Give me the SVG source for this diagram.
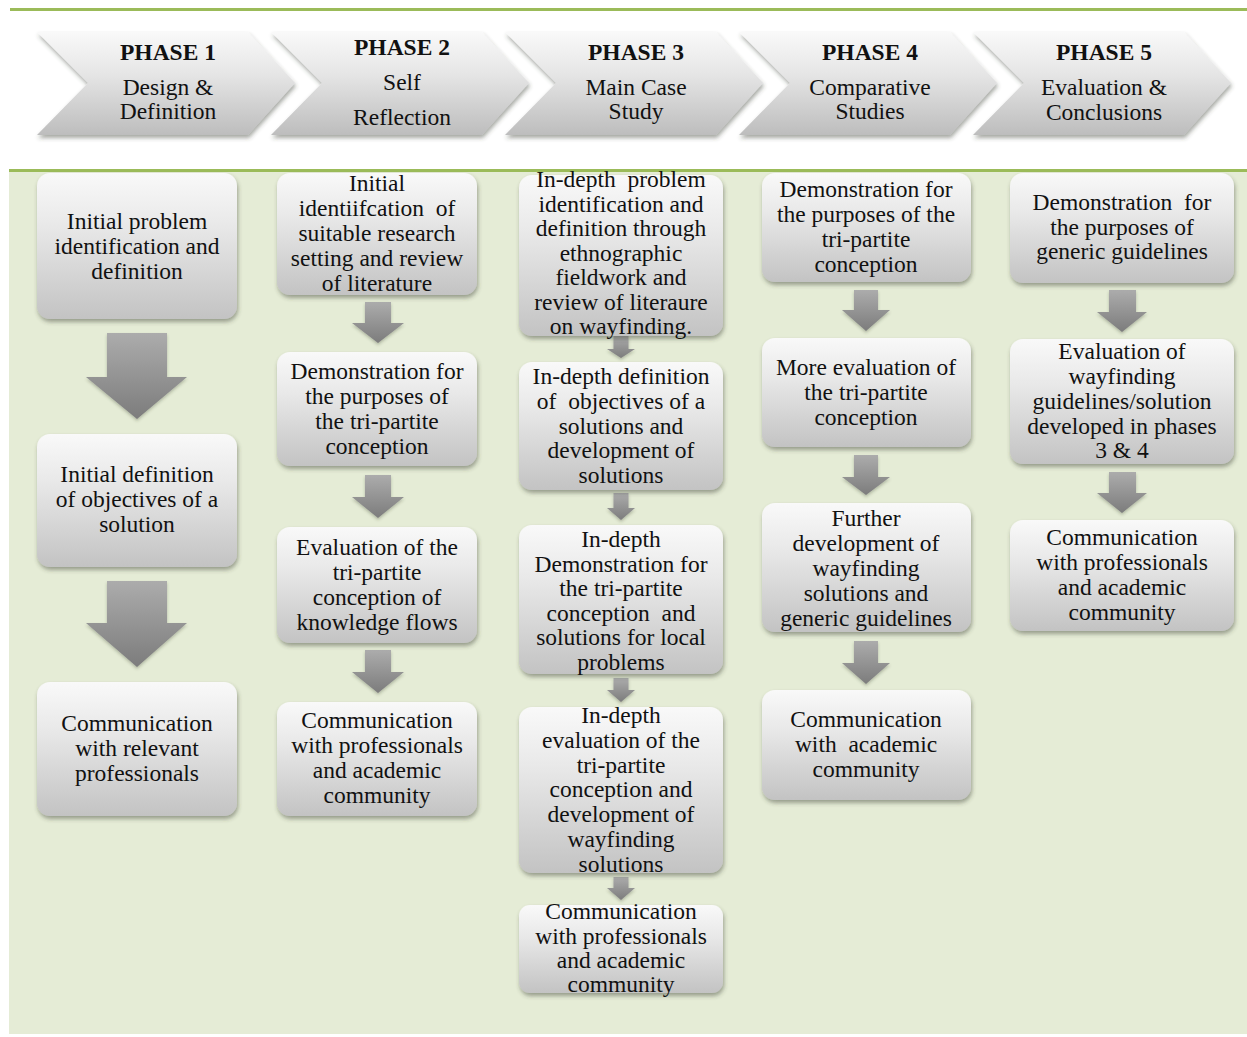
<svg xmlns="http://www.w3.org/2000/svg" width="1247" height="1037" viewBox="0 0 1247 1037">
  <defs>
    <linearGradient id="boxFill" x1="0" y1="0" x2="0" y2="1">
      <stop offset="0" stop-color="#f9f9f9"/>
      <stop offset="0.35" stop-color="#e9e9e9"/>
      <stop offset="1" stop-color="#c3c3c3"/>
    </linearGradient>
    <linearGradient id="chevFill" x1="0" y1="0" x2="0" y2="1">
      <stop offset="0" stop-color="#f9f9f9"/>
      <stop offset="0.4" stop-color="#e6e6e6"/>
      <stop offset="1" stop-color="#bdbdbd"/>
    </linearGradient>
    <linearGradient id="arrowFill" x1="0" y1="0" x2="0" y2="1">
      <stop offset="0" stop-color="#acacac"/>
      <stop offset="1" stop-color="#7c7c7c"/>
    </linearGradient>
    <filter id="shadow" x="-10%" y="-10%" width="120%" height="130%">
      <feDropShadow dx="1" dy="3" stdDeviation="2.2" flood-color="#3a3f30" flood-opacity="0.45"/>
    </filter>
    <filter id="arrowShadow" x="-10%" y="-10%" width="120%" height="130%">
      <feDropShadow dx="0" dy="2" stdDeviation="1.5" flood-color="#3a3f30" flood-opacity="0.3"/>
    </filter>
  </defs>
  <style>
    text { font-family: "Liberation Serif", "Times New Roman", serif; font-size: 23.5px; fill: #111; text-anchor: middle; white-space: pre; }
    .title { font-weight: bold; }
    .box { fill: url(#boxFill); filter: url(#shadow); }
    .chev { fill: url(#chevFill); filter: url(#shadow); }
    .arrow { fill: url(#arrowFill); filter: url(#arrowShadow); }
  </style>

  <!-- background and rules -->
  <rect x="0" y="0" width="1247" height="1037" fill="#ffffff"/>
  <rect x="10" y="8" width="1237" height="3" fill="#9bbb59"/>
  <rect x="9" y="170" width="1238" height="864" fill="#e5ecd6"/>
  <rect x="9" y="169" width="1238" height="3" fill="#9bbb59"/>

  <!-- phase headers -->
  <g id="phase1">
    <path class="chev" d="M37,32 H248 L295,83 L248,135 H37 L88,83 Z"/>
    <text x="168" y="60" class="title">PHASE 1</text>
    <text x="168" y="95">Design &amp;</text>
    <text x="168" y="119">Definition</text>
  </g>
  <g id="phase2">
    <path class="chev" d="M271,32 H482 L529,83 L482,135 H271 L322,83 Z"/>
    <text x="402" y="55" class="title">PHASE 2</text>
    <text x="402" y="90">Self</text>
    <text x="402" y="125">Reflection</text>
  </g>
  <g id="phase3">
    <path class="chev" d="M505,32 H716 L763,83 L716,135 H505 L556,83 Z"/>
    <text x="636" y="60" class="title">PHASE 3</text>
    <text x="636" y="95">Main Case</text>
    <text x="636" y="119">Study</text>
  </g>
  <g id="phase4">
    <path class="chev" d="M739,32 H950 L997,83 L950,135 H739 L790,83 Z"/>
    <text x="870" y="60" class="title">PHASE 4</text>
    <text x="870" y="95">Comparative</text>
    <text x="870" y="119">Studies</text>
  </g>
  <g id="phase5">
    <path class="chev" d="M973,32 H1184 L1231,83 L1184,135 H973 L1024,83 Z"/>
    <text x="1104" y="60" class="title">PHASE 5</text>
    <text x="1104" y="95">Evaluation &amp;</text>
    <text x="1104" y="120">Conclusions</text>
  </g>

  <!-- downward block arrows between steps -->
  <g id="connectors">
    <path class="arrow" d="M107,333 H167 V377 H187 L137,419 L86,377 H107 Z"/>
    <path class="arrow" d="M107,581 H167 V623 H187 L137,667 L86,623 H107 Z"/>

    <path class="arrow" d="M365,302 H391 V323 H404 L378,343 L352,323 H365 Z"/>
    <path class="arrow" d="M365,475 H391 V497 H404 L378,518 L352,497 H365 Z"/>
    <path class="arrow" d="M365,650 H391 V672 H404 L378,693 L352,672 H365 Z"/>

    <path class="arrow" d="M613.5,336 H628.5 V349 H635 L621,358 L607,349 H613.5 Z"/>
    <path class="arrow" d="M613.5,493 H628.5 V508 H635 L621,520 L607,508 H613.5 Z"/>
    <path class="arrow" d="M613.5,678 H628.5 V690 H635 L621,702 L607,690 H613.5 Z"/>
    <path class="arrow" d="M613.5,877 H628.5 V888 H635 L621,900 L607,888 H613.5 Z"/>

    <path class="arrow" d="M854,290 H878 V310 H890 L866,331 L842,310 H854 Z"/>
    <path class="arrow" d="M854,455 H878 V477 H890 L866,495 L842,477 H854 Z"/>
    <path class="arrow" d="M854,641 H878 V663 H890 L866,684 L842,663 H854 Z"/>

    <path class="arrow" d="M1109,290 H1136 V312 H1147 L1122,332 L1097,312 H1109 Z"/>
    <path class="arrow" d="M1109,472 H1136 V493 H1147 L1122,513 L1097,493 H1109 Z"/>
  </g>

  <!-- phase 1 steps -->
  <g id="p1-problem">
    <rect class="box" x="37" y="173" width="200" height="146" rx="13"/>
    <text x="137" y="229">Initial problem</text>
    <text x="137" y="254">identification and</text>
    <text x="137" y="279">definition</text>
  </g>
  <g id="p1-objectives">
    <rect class="box" x="37" y="434" width="200" height="133" rx="13"/>
    <text x="137" y="482">Initial definition</text>
    <text x="137" y="507">of objectives of a</text>
    <text x="137" y="532">solution</text>
  </g>
  <g id="p1-communication">
    <rect class="box" x="37" y="682" width="200" height="134" rx="13"/>
    <text x="137" y="731">Communication</text>
    <text x="137" y="756">with relevant</text>
    <text x="137" y="781">professionals</text>
  </g>

  <!-- phase 2 steps -->
  <g id="p2-setting">
    <rect class="box" x="277" y="173" width="200" height="122" rx="13"/>
    <text x="377" y="191">Initial</text>
    <text x="377" y="216">identiifcation  of</text>
    <text x="377" y="241">suitable research</text>
    <text x="377" y="266">setting and review</text>
    <text x="377" y="291">of literature</text>
  </g>
  <g id="p2-demonstration">
    <rect class="box" x="277" y="352" width="200" height="114" rx="13"/>
    <text x="377" y="379">Demonstration for</text>
    <text x="377" y="404">the purposes of</text>
    <text x="377" y="429">the tri-partite</text>
    <text x="377" y="454">conception</text>
  </g>
  <g id="p2-evaluation">
    <rect class="box" x="277" y="527" width="200" height="116" rx="13"/>
    <text x="377" y="555">Evaluation of the</text>
    <text x="377" y="580">tri-partite</text>
    <text x="377" y="605">conception of</text>
    <text x="377" y="630">knowledge flows</text>
  </g>
  <g id="p2-communication">
    <rect class="box" x="277" y="702" width="200" height="114" rx="13"/>
    <text x="377" y="728">Communication</text>
    <text x="377" y="753">with professionals</text>
    <text x="377" y="778">and academic</text>
    <text x="377" y="803">community</text>
  </g>

  <!-- phase 3 steps -->
  <g id="p3-problem">
    <rect class="box" x="519" y="175" width="204" height="161" rx="13"/>
    <text x="621" y="187">In-depth  problem</text>
    <text x="621" y="211.5">identification and</text>
    <text x="621" y="236">definition through</text>
    <text x="621" y="260.5">ethnographic</text>
    <text x="621" y="285">fieldwork and</text>
    <text x="621" y="309.5">review of literaure</text>
    <text x="621" y="334">on wayfinding.</text>
  </g>
  <g id="p3-objectives">
    <rect class="box" x="519" y="362" width="204" height="128" rx="13"/>
    <text x="621" y="384">In-depth definition</text>
    <text x="621" y="409">of  objectives of a</text>
    <text x="621" y="434">solutions and</text>
    <text x="621" y="458">development of</text>
    <text x="621" y="483">solutions</text>
  </g>
  <g id="p3-demonstration">
    <rect class="box" x="519" y="525" width="204" height="149" rx="13"/>
    <text x="621" y="547">In-depth</text>
    <text x="621" y="571.5">Demonstration for</text>
    <text x="621" y="596">the tri-partite</text>
    <text x="621" y="620.5">conception  and</text>
    <text x="621" y="645">solutions for local</text>
    <text x="621" y="669.5">problems</text>
  </g>
  <g id="p3-evaluation">
    <rect class="box" x="519" y="707" width="204" height="166" rx="13"/>
    <text x="621" y="723">In-depth</text>
    <text x="621" y="748">evaluation of the</text>
    <text x="621" y="773">tri-partite</text>
    <text x="621" y="797">conception and</text>
    <text x="621" y="822">development of</text>
    <text x="621" y="847">wayfinding</text>
    <text x="621" y="872">solutions</text>
  </g>
  <g id="p3-communication">
    <rect class="box" x="519" y="905" width="204" height="88" rx="11"/>
    <text x="621" y="919">Communication</text>
    <text x="621" y="943.5">with professionals</text>
    <text x="621" y="968">and academic</text>
    <text x="621" y="992">community</text>
  </g>

  <!-- phase 4 steps -->
  <g id="p4-demonstration">
    <rect class="box" x="762" y="173" width="209" height="109" rx="13"/>
    <text x="866" y="197">Demonstration for</text>
    <text x="866" y="222">the purposes of the</text>
    <text x="866" y="247">tri-partite</text>
    <text x="866" y="272">conception</text>
  </g>
  <g id="p4-evaluation">
    <rect class="box" x="762" y="338" width="209" height="109" rx="13"/>
    <text x="866" y="375">More evaluation of</text>
    <text x="866" y="400">the tri-partite</text>
    <text x="866" y="425">conception</text>
  </g>
  <g id="p4-development">
    <rect class="box" x="762" y="503" width="209" height="129" rx="13"/>
    <text x="866" y="526">Further</text>
    <text x="866" y="551">development of</text>
    <text x="866" y="576">wayfinding</text>
    <text x="866" y="601">solutions and</text>
    <text x="866" y="626">generic guidelines</text>
  </g>
  <g id="p4-communication">
    <rect class="box" x="762" y="690" width="209" height="110" rx="13"/>
    <text x="866" y="727">Communication</text>
    <text x="866" y="752">with  academic</text>
    <text x="866" y="777">community</text>
  </g>

  <!-- phase 5 steps -->
  <g id="p5-demonstration">
    <rect class="box" x="1010" y="173" width="224" height="110" rx="13"/>
    <text x="1122" y="210">Demonstration  for</text>
    <text x="1122" y="235">the purposes of</text>
    <text x="1122" y="259">generic guidelines</text>
  </g>
  <g id="p5-evaluation">
    <rect class="box" x="1010" y="339" width="224" height="125" rx="13"/>
    <text x="1122" y="359">Evaluation of</text>
    <text x="1122" y="384">wayfinding</text>
    <text x="1122" y="409">guidelines/solution</text>
    <text x="1122" y="434">developed in phases</text>
    <text x="1122" y="458">3 &amp; 4</text>
  </g>
  <g id="p5-communication">
    <rect class="box" x="1010" y="520" width="224" height="111" rx="13"/>
    <text x="1122" y="545">Communication</text>
    <text x="1122" y="570">with professionals</text>
    <text x="1122" y="595">and academic</text>
    <text x="1122" y="620">community</text>
  </g>
</svg>
